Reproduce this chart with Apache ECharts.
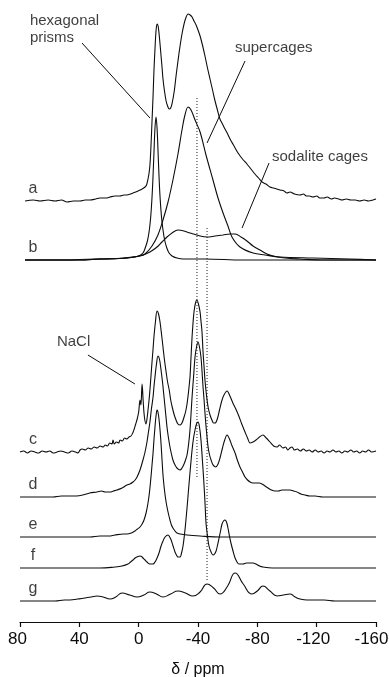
<!DOCTYPE html>
<html>
<head>
<meta charset="utf-8">
<script src="https://cdn.jsdelivr.net/npm/echarts/dist/echarts.min.js"></script>
<style>
  html, body { margin: 0; padding: 0; background: #fff; }
  #chart { width: 389px; height: 677px; }
</style>
</head>
<body>
<div id="chart"></div>
<script>
// 23Na MAS NMR spectra, stacked. Each trace: [chemical shift (ppm), intensity above its own baseline].
const traceNames = ['a', 'b', 'c', 'd', 'e', 'f', 'g'];
const baselines = [421, 362, 170, 125, 85, 54, 21];
const xTicks = [80, 40, 0, -40, -80, -120, -160];

const spectrumA = [
  [76.6,0],[71,1],[66.5,0],[61,1],[56.4,0],[52,1],[48.3,-1],[44,0],[39.5,0],[36,1],[32.8,1],[29,2],[26.1,3],[22,3],
  [19.3,4],[16,5],[12.6,5],[10,6],[7.9,6],[5.5,7],[3.8,8],[2,9],[0.4,10],[-1,11],[-2.3,12],[-3.4,13],[-4.3,14],
  [-5.3,16],[-6.3,22],[-7,28],[-7.6,36],[-8.3,55],[-9,80],[-9.7,105],[-10.3,130],[-11,152],[-11.7,170],[-12.4,177],
  [-13.1,175],[-13.7,168],[-14.4,157],[-15.1,145],[-15.8,133],[-16.4,122],[-17.4,110],[-18.5,100],[-19.5,95],
  [-20.6,92],[-21.6,93],[-22.6,98],[-24,110],[-25.2,125],[-26.5,140],[-27.9,155],[-29.2,167],[-30.6,177],[-32,184],
  [-33.3,187],[-34.7,186],[-36,184],[-37.3,180],[-38.7,176],[-40,171],[-41.4,165],[-43,156],[-44.7,145],[-46.4,133],
  [-48.1,122],[-49.8,111],[-51.5,100],[-53.1,91],[-54.8,82],[-56.5,77],[-58.2,72],[-60,67],[-61.6,62],[-64.3,55],
  [-67,48],[-70,42],[-73,37],[-75.7,32],[-78.4,27],[-80.8,23],[-83.2,19],[-85.8,17],[-88.5,14],[-91,13],[-93,12],
  [-95.3,11],[-98,10],[-100,8],[-102,9],[-105,7],[-108.8,6],[-111,7],[-113,5],[-115,5],[-117.5,4],[-120,5],[-122,3],
  [-125,3],[-127,4],[-130,2],[-132,3],[-135,2],[-137,1],[-140,2],[-143,1],[-146,1],[-149,0],[-152,1],[-155,0],
  [-158,1],[-160,2]
];

// b: deconvolution into hexagonal prisms, supercages and sodalite cages
const spectrumBPrisms = [
  [76.6,0],[50,0],[30,1],[20,1],[10,2],[4,3],[0,4],[-2.9,7],[-4.4,12],[-5.9,19],[-7,28],[-8,41],[-8.9,60],[-9.6,81],
  [-10.3,107],[-11,132],[-11.7,143],[-12.4,132],[-13.1,107],[-13.8,81],[-14.5,61],[-15.4,43],[-16.4,30],[-17.5,20],
  [-19,12],[-20.5,7],[-22.5,4],[-25.8,2],[-30,1],[-45,1],[-70,0],[-160,0]
];
const spectrumBSupercages = [
  [76.6,0],[40,0],[26.1,1],[7.9,2],[-0.9,4],[-4.3,6],[-9,14],[-13,25],[-16.4,40],[-19.8,58],[-23.1,80],[-26.5,106],
  [-29.2,130],[-31.2,145],[-33.3,153],[-35.3,150],[-38,140],[-41.4,128],[-45.4,105],[-50.1,80],[-53.5,62],[-56.9,47],
  [-60.2,34],[-62.9,23],[-68.3,13],[-77.1,7],[-85.2,5],[-95.3,3],[-117.5,2],[-142.5,1],[-160,0]
];
const spectrumBSodalite = [
  [76.6,0],[40,0],[26.1,1],[7.9,2],[-2.9,5],[-7.6,8],[-12.4,13],[-15.7,18],[-19.1,23],[-22.5,27],[-26.5,30],
  [-30.6,29],[-34.6,27],[-41.4,24],[-46.1,23],[-51.5,24],[-56.9,25],[-61.6,26],[-65,26],[-69,23],[-73,19],
  [-77.1,14],[-81.8,10],[-86.5,6],[-90.6,4],[-98.7,2],[-108.8,1],[-125,0],[-160,0]
];

const spectrumC = [
  [80,0],[77.5,1],[75,-1],[72.5,1],[70,0],[67.5,-1],[65,1],[62.5,0],[60,1],[57.5,-1],[55,0],[52.5,1],[50,0],
  [47.5,-1],[45,1],[42.5,0],[40.9,-1],[39.5,2],[38,3],[36,2],[34,4],[32,3],[30,5],[28,4],[26,6],[24,5],[22.5,7],
  [21,6],[19.5,9],[18,8],[17.3,12],[16.4,8],[15,10],[13.5,9],[12.5,12],[11,11],[9.5,14],[8,13],[6.5,15],[5.2,16],
  [4,19],[3,23],[2,28],[1,33],[0,40],[-0.9,52],[-1.5,47],[-2.3,68],[-3,52],[-3.8,36],[-4.9,28],[-5.6,33],[-6.3,42],
  [-7,52],[-7.6,62],[-8.3,76],[-9,90],[-9.7,103],[-10.3,115],[-11.3,130],[-12.4,141],[-13.4,138],[-14.4,130],
  [-15.4,118],[-16.4,105],[-17.4,92],[-18.5,80],[-19.5,70],[-20.6,62],[-21.6,52],[-22.6,45],[-24,37],[-25.2,32],
  [-26.5,28],[-27.9,27],[-29.2,29],[-30.6,35],[-31.6,40],[-32.6,48],[-33.6,60],[-34.6,75],[-35.3,95],[-36,115],
  [-36.7,130],[-37.3,140],[-38.3,149],[-39.3,152],[-40.3,148],[-41.4,140],[-42,131],[-42.7,120],[-43.4,100],
  [-44.1,85],[-44.7,72],[-45.7,57],[-46.8,45],[-48.1,37],[-49.4,32],[-50.5,29],[-51.5,29],[-53,33],[-54.5,42],
  [-56,51],[-57.5,57],[-59.6,61],[-61.5,56],[-63.5,49],[-65.5,43],[-67.5,36],[-69.5,28],
  [-71.7,20],[-73.4,14],[-75.1,9],[-77,10],[-79.1,12],[-81.5,15],[-83.8,17],[-86,14],
  [-88.5,10],[-91,6],[-93.3,5],[-95,7],[-97.3,4],[-99,5],[-100.5,2],[-102,4],[-103.4,5],[-105,2],[-107,3],[-109,1],
  [-111,3],[-113,1],[-115,2],[-117,0],[-119,2],[-121,0],[-123,1],[-125,-1],[-127,1],[-129,0],[-131,2],[-133,0],
  [-135,1],[-137,-1],[-139,1],[-141,0],[-143,2],[-145,0],[-147,1],[-149,-1],[-151,1],[-153,0],[-155,2],[-157,0],[-160,1]
];

const spectrumD = [
  [80,0],[70,0],[57.8,0],[52,1],[46.3,1],[42,1],[37.5,2],[33,4],[28.1,5],[25,6],[22.7,5],[19.3,5],[17,6],[14.6,7],
  [11.2,9],[7.9,12],[5.9,13],[3.8,15],[2.4,17],[1.1,20],[-0.9,27],[-2.9,37],[-4.3,45],[-5.6,55],[-6.6,65],[-7.6,75],
  [-8.6,88],[-9.7,100],[-10.3,110],[-11,120],[-12,133],[-13,141],[-14,138],[-15,128],[-16,116],[-17.1,100],
  [-18.1,85],[-19.1,70],[-20.1,59],[-21.1,50],[-22.1,43],[-23.1,37],[-24.5,32],[-25.8,29],[-27.9,27],[-29.2,29],
  [-30.6,33],[-31.6,37],[-32.6,42],[-33.6,52],[-34.6,67],[-35.3,83],[-36,100],[-37,120],[-38,140],[-39,150],
  [-40,155],[-41,150],[-42,140],[-42.7,126],[-43.4,110],[-44.1,97],[-44.7,84],[-45.7,66],[-46.8,50],[-47.8,42],
  [-48.8,37],[-49.8,33],[-50.8,31],[-52,30],[-53.5,33],[-55,40],[-56.5,49],[-58,57],
  [-59.6,62],[-61.2,58],[-63,51],[-65,44],[-66.5,37],[-68.3,30],[-70,25],
  [-71.7,20],[-73.4,17],[-75.1,15],[-77,14],[-79.1,14],[-81.2,14],[-83.2,13],[-85.2,11],[-87.2,9],[-89.5,7],
  [-91.9,6],[-94.2,6],[-96.6,7],[-99.3,7],[-102,7],[-104.4,6],[-106.7,5],[-109.4,3],[-112.1,2],[-115.5,1],
  [-118.9,1],[-124,0],[-129,0],[-160,0]
];

const spectrumE = [
  [80,0],[60,0],[53,0],[40,0],[32.8,0],[26.1,1],[20,1],[16,2],[10,3],[7.9,3],[5,4],[2.5,6],[0.8,8],[-0.9,10],
  [-2.3,13],[-3.6,17],[-5,24],[-6.3,34],[-7.3,45],[-8.3,60],[-9,72],[-9.7,84],[-10.3,97],[-11,110],[-11.7,121],
  [-12.4,127],[-13,125],[-13.7,118],[-14.4,107],[-15.1,93],[-15.8,76],[-16.4,62],[-17.1,51],[-17.8,42],[-18.5,35],
  [-19.1,30],[-20.1,23],[-21.1,17],[-22.1,12],[-23.1,9],[-24.5,6],[-25.8,4],[-28,3],[-32.6,2],[-41.4,1],[-54.8,0],[-160,0]
];

const spectrumF = [
  [80,0],[60,0],[39.5,0],[26.1,0],[16,1],[11.2,2],[7.2,4],[5.5,6],[3.8,8],[2.4,10],[1.1,11],[-0.9,12],[-2,11.5],
  [-2.9,10],[-4.3,8],[-5.6,6],[-7.6,4],[-9.7,4],[-11,6],[-12.4,10],[-13.7,15],[-15.1,22],[-16.4,27],[-17.8,31],
  [-19.8,33],[-20.9,31],[-21.9,28],[-23.2,22],[-24.5,16],[-25.5,13],[-26.5,11],[-27.9,11],[-28.9,15],[-29.9,22],
  [-31,35],[-32,50],[-33,67],[-34,85],[-35,102],[-36,118],[-37,130],[-38,138],[-39,144],[-40,146],[-41,141],
  [-42,128],[-43,107],[-44.1,82],[-44.8,63],[-45.4,45],[-46.4,32],[-47.4,22],[-48.8,16],[-50.1,13],[-51.2,14],
  [-52.2,17],[-53.2,23],[-54.2,30],[-55.2,37],[-56.2,44],[-57.2,47],[-58.2,48],[-59.2,46],[-60.2,40],[-61.2,32],
  [-62.2,25],[-63.6,17],[-65,10],[-66.3,6],[-67.6,4],[-69,4],[-70.3,4],[-72.7,5],[-75.1,5],[-77.1,5],[-79.1,4],
  [-81.5,2],[-83.8,1],[-90,0],[-95.3,0],[-160,0]
];

const spectrumG = [
  [80,0],[70,0],[60,0],[56.4,0],[50,1],[46.3,1],[41,2],[36.2,3],[32,4],[28.1,5],[24,4],[19.3,2],[15.5,4],[11.2,8],
  [6,6],[1.1,4],[-3.5,6],[-7.6,9],[-12,7],[-16.4,4],[-21.5,7],[-26.5,10],[-31.5,8],[-36.6,5],[-41.4,9],[-46.1,17],
  [-50.5,13],[-54.8,7],[-60,15],[-65,28],[-70.5,17],[-76.4,7],[-80,10],[-83.8,15],[-88.5,10],[-93.3,5],[-97.6,6],
  [-102,7],[-105.5,4],[-108.8,2],[-113.5,1],[-118.9,1],[-125,1],[-132.4,0],[-160,0]
];

// Reference positions marked by dotted verticals: [ppm, lower intensity, upper intensity]
const dottedMarkers = [[-39.3, 145, 525], [-46.1, 42, 395]];

// Annotations: text, anchor [ppm, intensity], leader from/to [ppm, intensity]
const annotationTexts = ['hexagonal\nprisms', 'supercages', 'sodalite cages', 'NaCl'];
const annotationAnchors = [[73.3, 593], [-64.9, 574], [-89.9, 465], [55.1, 280]];
const annotationLeaders = [
  [[38.2, 579], [-7.6, 504]],
  [[-71.7, 561], [-46.1, 479]],
  [[-87.9, 459], [-69.7, 394]],
  [[34.2, 267], [2.5, 238]]
];

const FONT = '"Liberation Sans", Arial, Helvetica, sans-serif';
const INK = '#0c0c0c';

const traces = [
  [spectrumA], [spectrumBPrisms, spectrumBSupercages, spectrumBSodalite],
  [spectrumC], [spectrumD], [spectrumE], [spectrumF], [spectrumG]
];
const smoothness = [0.35, 0.35, 0.35, 0.35, 0.35, 0.4, 0.5];

const series = [];
traces.forEach((group, i) => {
  group.forEach(pts => {
    series.push({
      type: 'line',
      data: pts.map(([p, h]) => [p, h + baselines[i]]),
      smooth: smoothness[i],
      symbol: 'none',
      lineStyle: { color: INK, width: 1.1 },
      silent: true,
      z: 3
    });
  });
});

dottedMarkers.forEach(([p, lo, hi]) => {
  series.push({
    type: 'line',
    data: [[p, lo], [p, hi]],
    symbol: 'none',
    lineStyle: { color: '#222', width: 1, type: [1, 2] },
    silent: true,
    z: 2
  });
});

annotationLeaders.forEach(seg => {
  series.push({
    type: 'line',
    data: seg,
    symbol: 'none',
    lineStyle: { color: INK, width: 1 },
    silent: true,
    z: 4
  });
});

// trace letters
series.push({
  type: 'scatter',
  symbolSize: 0,
  silent: true,
  data: traceNames.map((n, i) => [71.2, baselines[i] + 12, n]),
  label: {
    show: true, position: 'inside', formatter: p => p.data[2],
    fontFamily: FONT, fontSize: 16, color: INK, align: 'center', verticalAlign: 'middle'
  },
  z: 5
});

// annotation texts
series.push({
  type: 'scatter',
  symbolSize: 0,
  silent: true,
  data: annotationTexts.map((t, i) => [annotationAnchors[i][0], annotationAnchors[i][1], t]),
  label: {
    show: true, position: 'inside', formatter: p => p.data[2],
    fontFamily: FONT, fontSize: 15, lineHeight: 17, color: INK, align: 'left', verticalAlign: 'middle'
  },
  z: 5
});

// tick label text; the outermost right labels are nudged left so they stay inside the canvas
const tickStyle = { fontFamily: FONT, fontSize: 17, color: INK };
const tickFormatter = v => {
  if (v === xTicks[xTicks.length - 1]) return '{edge|' + v + '}';
  if (v === xTicks[xTicks.length - 2]) return '{near|' + v + '}';
  if (v === xTicks[0]) return '{first|' + v + '}';
  return String(v);
};

const chart = echarts.init(document.getElementById('chart'), null, { renderer: 'canvas' });
chart.setOption({
  animation: false,
  backgroundColor: '#fff',
  grid: { left: 20, right: 13, top: 10, bottom: 55, containLabel: false, outerBoundsMode: 'none' },
  xAxis: {
    type: 'value',
    inverse: true,
    min: xTicks[xTicks.length - 1],
    max: xTicks[0],
    interval: 40,
    name: 'δ / ppm',
    nameLocation: 'middle',
    nameGap: 40,
    nameTextStyle: { fontFamily: FONT, fontSize: 16, color: INK },
    axisLine: { show: true, onZero: false, lineStyle: { color: INK, width: 1.2 } },
    axisTick: { show: true, inside: false, length: 5, lineStyle: { color: INK, width: 1.2 } },
    axisLabel: {
      ...tickStyle, margin: 9, formatter: tickFormatter,
      rich: {
        edge: { ...tickStyle, padding: [0, 9, 0, 0] },
        near: { ...tickStyle, padding: [0, 7, 0, 0] },
        first: { ...tickStyle, padding: [0, 5, 0, 0] }
      }
    },
    splitLine: { show: false }
  },
  yAxis: { type: 'value', min: 0, max: 612, show: false },
  series
});
</script>
</body>
</html>
